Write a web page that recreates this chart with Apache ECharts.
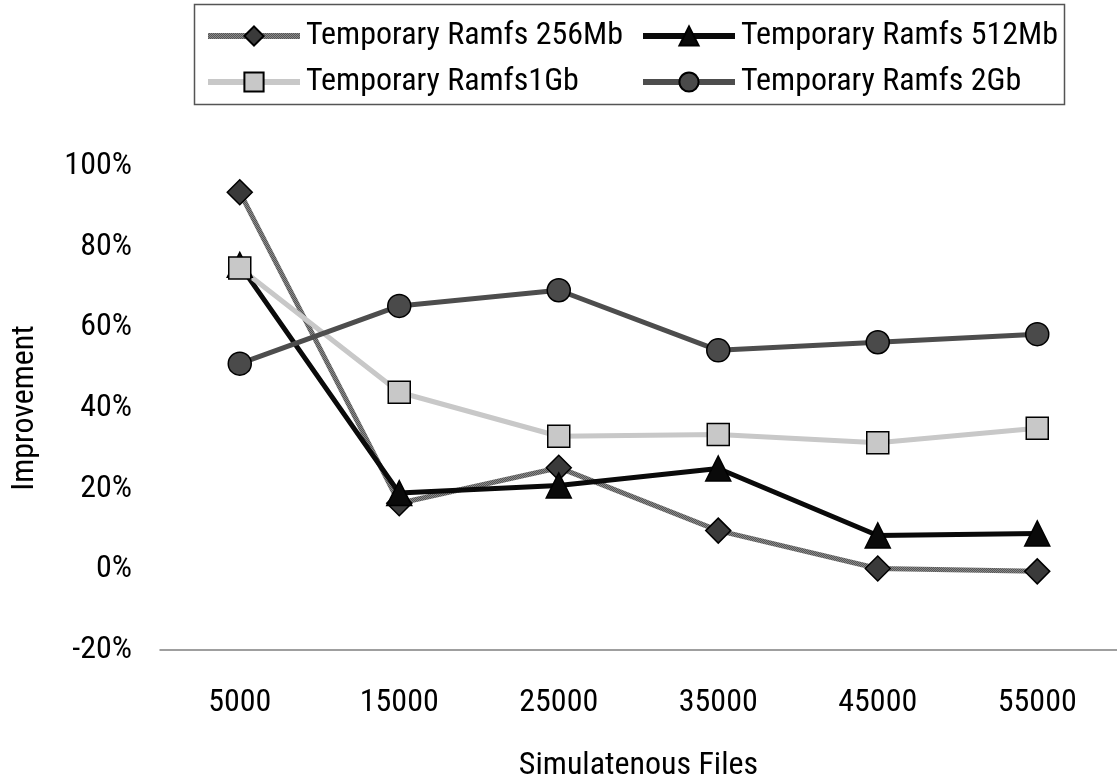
<!DOCTYPE html>
<html>
<head>
<meta charset="utf-8">
<script src="https://cdn.jsdelivr.net/npm/echarts@6/dist/echarts.min.js"></script>
<style>
  html, body { margin: 0; padding: 0; background: #fff; }
  #main { width: 1117px; height: 778px; }
</style>
</head>
<body>
<div id="main"></div>
<script>
// data
var categories = ['5000', '15000', '25000', '35000', '45000', '55000'];
var ramfs256 = [93.5, 16.4, 25.2, 9.6, 0.2, -0.5];
var ramfs512 = [75.5, 18.9, 20.8, 25.0, 8.4, 8.9];
var ramfs1g = [74.7, 43.9, 33.0, 33.4, 31.4, 35.0];
var ramfs2g = [51.0, 65.3, 69.2, 54.3, 56.3, 58.3];
var yTicks = [-20, 0, 20, 40, 60, 80, 100];

var font = 'Roboto Condensed, Liberation Sans, sans-serif';
var fontSize = 32;

// small striped tile for the hatched 256Mb line
function stripes() {
    var c = document.createElement('canvas');
    c.width = 2; c.height = 2;
    var ctx = c.getContext('2d');
    ctx.fillStyle = '#8a8a8a';
    ctx.fillRect(0, 0, 2, 2);
    ctx.fillStyle = '#555';
    ctx.fillRect(0, 0, 1, 1);
    ctx.fillRect(1, 1, 1, 1);
    return c;
}

var myChart = echarts.init(document.getElementById('main'));

function lineSeries(name, data, color, width, symbol, size, fill) {
    return {
        name: name,
        type: 'line',
        data: data,
        symbol: symbol,
        symbolSize: size,
        showAllSymbol: true,
        lineStyle: { color: color, width: width },
        itemStyle: { color: fill, borderColor: '#000', borderWidth: 1.5 },
        emphasis: { disabled: true }
    };
}

var legendText = { fontFamily: font, fontSize: fontSize, color: '#000', padding: [0, 0, 0, 1] };

function legendCol(names, left) {
    return {
        data: names,
        orient: 'vertical',
        left: left, top: 15,
        itemWidth: 92, itemHeight: 24,
        itemGap: 14,
        lineStyle: { width: 6 },
        textStyle: legendText
    };
}

var option = {
    animation: false,
    backgroundColor: '#fff',
    graphic: [{
        type: 'rect',
        left: 192, top: 2,
        shape: { width: 870, height: 100 },
        style: { fill: 'none', stroke: '#555', lineWidth: 1.5 },
        silent: true
    }],
    legend: [
        legendCol(['Temporary Ramfs 256Mb', 'Temporary Ramfs1Gb'], 200),
        legendCol(['Temporary Ramfs 512Mb', 'Temporary Ramfs 2Gb'], 635)
    ],
    grid: { left: 160, right: 0, top: 166, bottom: 128, outerBoundsMode: 'none' },
    xAxis: {
        type: 'category',
        data: categories,
        boundaryGap: true,
        name: 'Simulatenous Files',
        nameLocation: 'middle',
        nameGap: 100,
        nameTextStyle: { fontFamily: font, fontSize: fontSize, color: '#000' },
        axisLine: { onZero: false, lineStyle: { color: '#808080', width: 1.5 } },
        axisTick: { inside: true, length: 9, lineStyle: { color: '#808080' } },
        axisLabel: { margin: 37, fontFamily: font, fontSize: fontSize, color: '#000' },
        splitLine: { show: false }
    },
    yAxis: {
        type: 'value',
        min: yTicks[0],
        max: yTicks[yTicks.length - 1],
        interval: 20,
        name: 'Improvement',
        nameLocation: 'middle',
        nameGap: 119,
        nameTextStyle: { fontFamily: font, fontSize: fontSize, color: '#000' },
        axisLine: { show: false },
        axisTick: { show: false },
        splitLine: { show: false },
        axisLabel: {
            margin: 28,
            fontFamily: font, fontSize: fontSize, color: '#000',
            formatter: '{value}%'
        }
    },
    series: [
        lineSeries('Temporary Ramfs 256Mb', ramfs256, { image: stripes(), repeat: 'repeat' }, 5, 'diamond', 25, '#3a3a3a'),
        lineSeries('Temporary Ramfs 512Mb', ramfs512, '#0a0a0a', 5, 'triangle', 25, '#0a0a0a'),
        lineSeries('Temporary Ramfs1Gb', ramfs1g, '#c8c8c8', 5, 'rect', 22, '#c8c8c8'),
        lineSeries('Temporary Ramfs 2Gb', ramfs2g, '#4d4d4d', 5, 'circle', 23, '#4a4a4a')
    ]
};

myChart.setOption(option);
</script>
</body>
</html>
